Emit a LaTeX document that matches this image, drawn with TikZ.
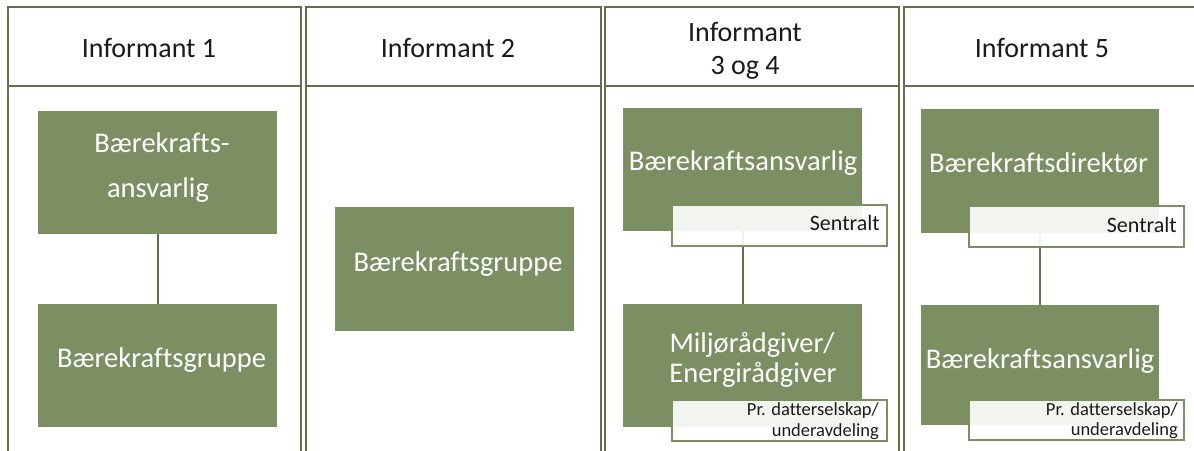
\documentclass[tikz,border=0pt]{standalone}
\usepackage{fontspec}
\setmainfont{Carlito}[Ligatures={NoCommon}]
\definecolor{leaf}{RGB}{123,143,98}
\definecolor{frame}{RGB}{96,112,74}
\definecolor{ink}{RGB}{26,26,26}
\tikzset{
  colframe/.style={draw=frame, line width=1.7pt},
  greenbox/.style={rectangle, fill=leaf, draw=none, inner sep=0pt, anchor=north west,
                   minimum width=239pt, minimum height=123pt},
  tagbox/.style={rectangle, draw=leaf, line width=1.5pt, fill=white, fill opacity=0.9,
                 inner sep=0pt, anchor=north west, minimum width=215pt, minimum height=41pt},
  headtext/.style={font=\fontsize{28}{33}\selectfont, text=ink, anchor=base, inner sep=0pt},
  boxtext/.style={font=\fontsize{28.5}{33}\selectfont, text=white, anchor=base, inner sep=0pt},
  tagbig/.style={font=\fontsize{22}{26}\selectfont, text=ink, anchor=base east, inner sep=0pt},
  tagsmall/.style={font=\fontsize{18.5}{22}\selectfont, text=ink, anchor=base east, inner sep=0pt},
  link/.style={draw=frame, line width=1.9pt},
}
\begin{document}
\begin{tikzpicture}[x=1pt, y=-1pt]
\clip (0,0) rectangle (1194,450);
\fill[white] (0,0) rectangle (1194,450);

% column frames with their header rows
\foreach \l/\r in {8/301, 306/601, 605/899, 904/1198}{
  \draw[colframe] (\l,470) -- (\l,7) -- (\r,7) -- (\r,470);
  \draw[colframe] (\l,86) -- (\r,86);
}

% headers
\node[headtext] (h1) at (149,57) {Informant 1};
\node[headtext] (h2) at (448,57) {Informant 2};
\node[headtext] (h3a) at (745,41) {Informant};
\node[headtext] (h3b) at (745,74) {3 og 4};
\node[headtext] (h5) at (1042,57) {Informant 5};

% role boxes
\node[greenbox] (c1a) at (38,111) {};
\node[greenbox] (c1b) at (38,304) {};
\node[greenbox, minimum height=124pt] (c2) at (335,207) {};
\node[greenbox] (c3a) at (623,108) {};
\node[greenbox] (c3b) at (623,304) {};
\node[greenbox, minimum width=238pt, minimum height=124pt] (c4a) at (921,109) {};
\node[greenbox, minimum width=238pt, minimum height=120pt] (c4b) at (921,305) {};

% reporting lines
\draw[link] (c1a.south) -- (c1b.north);
\draw[link] (c3a.south) -- (c3b.north);
\draw[link] (c4a.south) -- (c4b.north);

% role titles
\node[boxtext] (t1a) at (162,152) {Bærekrafts-};
\node[boxtext] (t1b) at (158,197) {ansvarlig};
\node[boxtext] (t1c) at (161.5,367) {Bærekraftsgruppe};
\node[boxtext] (t2) at (458,271) {Bærekraftsgruppe};
\node[boxtext] (t3a) at (743,170) {Bærekraftsansvarlig};
\node[boxtext] (t3b) at (752,352) {Miljørådgiver/};
\node[boxtext] (t3c) at (753,382) {Energirådgiver};
\node[boxtext] (t4a) at (1038.5,172) {Bærekraftsdirektør};
\node[boxtext] (t4b) at (1040,368) {Bærekraftsansvarlig};

% level tags
\node[tagbox] (s3) at (671,204) {};
\node[tagbox] (p3) at (671,399) {};
\node[tagbox] (s4) at (968,205) {};
\node[tagbox, minimum height=40pt] (p4) at (968,399) {};

\node[tagbig] (s3t) at (880,230) {Sentralt};
\node[tagbig] (s4t) at (1177,232) {Sentralt};
\node[tagsmall] (p3t1) at (879,415) {Pr. datterselskap/};
\node[tagsmall] (p3t2) at (879,436) {underavdeling};
\node[tagsmall] (p4t1) at (1178,415) {Pr. datterselskap/};
\node[tagsmall] (p4t2) at (1178,435) {underavdeling};
\end{tikzpicture}
\end{document}
